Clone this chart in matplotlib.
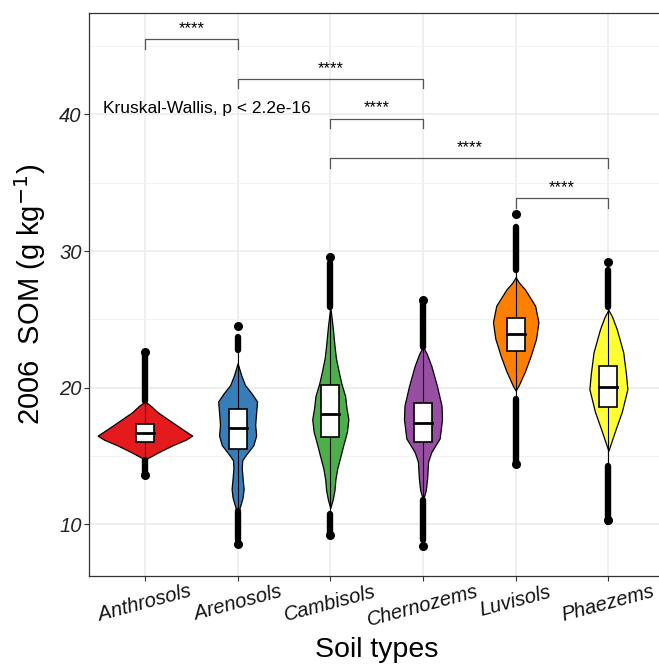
import numpy as np
import matplotlib
matplotlib.use("Agg")
import matplotlib.pyplot as plt

plt.rcParams['font.family'] = ['Liberation Sans', 'DejaVu Sans']

# ---- data ----
soil_types = ['Anthrosols', 'Arenosols', 'Cambisols', 'Chernozems', 'Luvisols', 'Phaezems']
colors = ['#E41A1C', '#377EB8', '#4DAF4A', '#984EA3', '#FF7F00', '#FFFF33']

q1 = [16.05, 15.52, 16.42, 16.0, 22.68, 18.61]
median = [16.71, 17.07, 18.05, 17.44, 23.93, 20.07]
q3 = [17.32, 18.42, 20.2, 18.86, 25.08, 21.61]

whisker_lo = [14.7, 11.0, 10.8, 11.8, 19.2, 14.3]
whisker_hi = [19.0, 22.8, 25.9, 23.0, 28.6, 25.9]
outlier_hi_end = [22.6, 23.7, 29.1, 26.4, 31.8, 28.6]
outlier_lo_end = [13.55, 8.9, 9.2, 8.85, 14.35, 10.2]
max_points = [22.6, 24.5, 29.6, 26.4, 32.7, 29.2]
min_points = [13.6, 8.55, 9.2, 8.4, 14.4, 10.3]

# violin outlines: SOM level and half width (in category units)
anthro_lvl = [14.7, 14.9, 15.3, 15.8, 16.2, 16.5, 16.9, 17.5, 18.2, 18.7, 19.0]
anthro_w = [0.0, 0.04, 0.15, 0.30, 0.44, 0.51, 0.42, 0.29, 0.14, 0.06, 0.0]
areno_lvl = [10.8, 11.4, 12.0, 12.6, 13.3, 14.1, 14.7, 15.1, 15.8, 16.5, 17.3, 18.2, 19.0, 19.6, 20.2, 20.9, 21.8]
areno_w = [0.0, 0.03, 0.055, 0.065, 0.055, 0.045, 0.05, 0.09, 0.17, 0.2, 0.19, 0.2, 0.21, 0.15, 0.08, 0.04, 0.0]
cambi_lvl = [11.2, 11.8, 12.5, 13.3, 14.1, 15.0, 15.8, 16.8, 17.7, 18.5, 19.4, 20.3, 21.2, 22.2, 23.1, 24.5, 25.9]
cambi_w = [0.0, 0.025, 0.045, 0.055, 0.075, 0.11, 0.14, 0.18, 0.195, 0.175, 0.16, 0.12, 0.09, 0.06, 0.045, 0.025, 0.0]
cherno_lvl = [11.8, 12.5, 13.4, 14.6, 15.3, 16.3, 17.7, 18.7, 20.15, 21.6, 22.5, 23.0]
cherno_w = [0.0, 0.03, 0.045, 0.055, 0.09, 0.18, 0.205, 0.2, 0.15, 0.09, 0.04, 0.0]
luvi_lvl = [19.8, 20.15, 21.2, 22.3, 23.6, 24.8, 26.0, 27.2, 27.7, 28.1]
luvi_w = [0.0, 0.03, 0.1, 0.16, 0.22, 0.245, 0.21, 0.1, 0.035, 0.0]
phaez_lvl = [15.4, 16.1, 17.0, 18.25, 19.9, 21.0, 22.6, 24.3, 25.2, 25.7]
phaez_w = [0.0, 0.035, 0.08, 0.145, 0.205, 0.19, 0.16, 0.09, 0.04, 0.0]

violin_lvls = [anthro_lvl, areno_lvl, cambi_lvl, cherno_lvl, luvi_lvl, phaez_lvl]
violin_ws = [anthro_w, areno_w, cambi_w, cherno_w, luvi_w, phaez_w]

# pairwise comparisons (group index pairs) and bracket heights
pairs = [(0, 1), (1, 3), (2, 3), (2, 5), (4, 5)]
bracket_y = [45.5, 42.6, 39.7, 36.8, 33.85]
signif = ['****'] * 5

# ---- figure ----
W, H = 659, 667
fig = plt.figure(figsize=(W / 100, H / 100), dpi=100)
left, right, top, bottom = 89.3, 664, 13.3, 576
ax = fig.add_axes([left / W, 1 - bottom / H, (right - left) / W, (bottom - top) / H])

x = np.arange(1, len(soil_types) + 1)
box_half = 0.097

for i, xi in enumerate(x):
    lv = np.array(violin_lvls[i])
    hw = np.array(violin_ws[i])
    ax.fill_betweenx(lv, xi - hw, xi + hw, facecolor=colors[i], edgecolor='black',
                     linewidth=0.9, zorder=2)
    # whisker line
    ax.plot([xi, xi], [whisker_lo[i], whisker_hi[i]], color='black', lw=0.8, zorder=3)
    # outliers drawn as dense runs of points
    ax.plot([xi, xi], [whisker_hi[i], outlier_hi_end[i]], color='black', lw=4.6,
            solid_capstyle='round', zorder=3)
    ax.plot([xi, xi], [outlier_lo_end[i], whisker_lo[i]], color='black', lw=4.6,
            solid_capstyle='round', zorder=3)
    ax.plot([xi, xi], [min_points[i], max_points[i]], 'o', color='black', ms=5.5,
            lw=0, zorder=3)
    # box
    ax.add_patch(plt.Rectangle((xi - box_half, q1[i]), 2 * box_half, q3[i] - q1[i],
                               facecolor='white', edgecolor='black', lw=1.2, zorder=4))
    ax.plot([xi - box_half, xi + box_half], [median[i], median[i]], color='black',
            lw=2, zorder=5)

# significance brackets
tick_drop = 0.7
for (a, b), yb, lab in zip(pairs, bracket_y, signif):
    xa, xb = x[a], x[b]
    ax.plot([xa, xa, xb, xb], [yb - tick_drop, yb, yb, yb - tick_drop],
            color='#555555', lw=0.9, zorder=3)
    ax.text((xa + xb) / 2, yb + 0.45, lab, ha='center', va='baseline', fontsize=12,
            zorder=3)

ax.text(0.55, 40.4, 'Kruskal-Wallis, p < 2.2e-16', ha='left', va='center',
        fontsize=12.5, zorder=3)

ax.set_xlim(0.4, 6.6)
ax.set_ylim(6.23, 47.4)
ax.set_xticks(x)
ax.set_xticklabels(soil_types, rotation=15, ha='center', va='top',
                   fontsize=14.5, fontstyle='italic')
ax.set_yticks([10, 20, 30, 40])
ax.set_yticks([15, 25, 35, 45], minor=True)
ax.tick_params(axis='y', which='major', labelsize=14.5, length=3.5, color='#333333',
               labelcolor='#222222', pad=2)
ax.tick_params(axis='y', which='minor', length=0)
ax.tick_params(axis='x', length=3.5, color='#333333', pad=1, labelcolor='#111111')
for lab in ax.get_yticklabels():
    lab.set_fontstyle('italic')

ax.grid(True, which='major', color='#EBEBEB', lw=1.1, zorder=0)
ax.grid(True, which='minor', axis='y', color='#F2F2F2', lw=0.8, zorder=0)
ax.set_axisbelow(True)
for sp in ax.spines.values():
    sp.set_color('#333333')
    sp.set_linewidth(0.9)

ax.set_ylabel('2006  SOM (g kg$^{-1}$)', fontsize=21)
ax.yaxis.set_label_coords(-0.0727, 0.501)
ax.set_xlabel('Soil types', fontsize=20.5)
ax.xaxis.set_label_coords(0.4997, -0.108)
ax.xaxis.label.set_va('top')

fig.savefig('out.png', dpi=100)
